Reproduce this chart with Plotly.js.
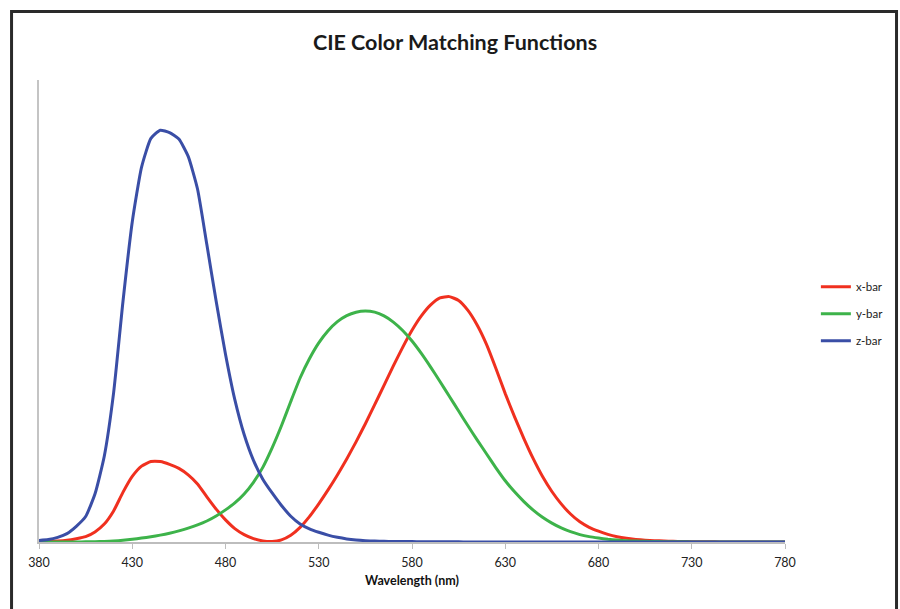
<!DOCTYPE html>
<html>
<head>
<meta charset="utf-8">
<script src="https://cdn.plot.ly/plotly-3.0.1.min.js"></script>
<style>
  html, body { margin: 0; padding: 0; background: #fff; }
  #chart { width: 900px; height: 609px; }
</style>
</head>
<body>
<div id="chart"></div>
<script>
// CIE 1931 2° standard observer, 5 nm steps, 380–780 nm
const wavelength = [
  380,385,390,395,400,405,410,415,420,425,430,435,440,445,450,455,460,465,470,475,
  480,485,490,495,500,505,510,515,520,525,530,535,540,545,550,555,560,565,570,575,
  580,585,590,595,600,605,610,615,620,625,630,635,640,645,650,655,660,665,670,675,
  680,685,690,695,700,705,710,715,720,725,730,735,740,745,750,755,760,765,770,775,780
];
const xBar = [
  0.001368,0.002236,0.004243,0.007650,0.014310,0.023190,0.043510,0.077630,0.134380,0.214770,
  0.283900,0.328500,0.348280,0.348060,0.336200,0.318700,0.290800,0.251100,0.195360,0.142100,
  0.095640,0.057950,0.032010,0.014700,0.004900,0.002400,0.009300,0.029100,0.063270,0.109600,
  0.165500,0.225750,0.290400,0.359700,0.433450,0.512050,0.594500,0.678400,0.762100,0.842500,
  0.916300,0.978600,1.026300,1.056700,1.062200,1.045600,1.002600,0.938400,0.854450,0.751400,
  0.642400,0.541900,0.447900,0.360800,0.283500,0.218700,0.164900,0.121200,0.087400,0.063600,
  0.046770,0.032900,0.022700,0.015840,0.011359,0.008111,0.005790,0.004109,0.002899,0.002049,
  0.001440,0.001000,0.000690,0.000476,0.000332,0.000235,0.000166,0.000117,0.000083,0.000059,0.000042
];
const yBar = [
  0.000039,0.000064,0.000120,0.000217,0.000396,0.000640,0.001210,0.002180,0.004000,0.007300,
  0.011600,0.016840,0.023000,0.029800,0.038000,0.048000,0.060000,0.073900,0.090980,0.112600,
  0.139020,0.169300,0.208020,0.258600,0.323000,0.407300,0.503000,0.608200,0.710000,0.793200,
  0.862000,0.914850,0.954000,0.980300,0.994950,1.000000,0.995000,0.978600,0.952000,0.915400,
  0.870000,0.816300,0.757000,0.694900,0.631000,0.566800,0.503000,0.441200,0.381000,0.321000,
  0.265000,0.217000,0.175000,0.138200,0.107000,0.081600,0.061000,0.044580,0.032000,0.023200,
  0.017000,0.011920,0.008210,0.005723,0.004102,0.002929,0.002091,0.001484,0.001047,0.000740,
  0.000520,0.000361,0.000249,0.000172,0.000120,0.000085,0.000060,0.000042,0.000030,0.000021,0.000015
];
const zBar = [
  0.006450,0.010550,0.020050,0.036210,0.067850,0.110200,0.207400,0.371300,0.645600,1.039050,
  1.385600,1.622960,1.747060,1.782600,1.772110,1.744100,1.669200,1.528100,1.287640,1.041900,
  0.812950,0.616200,0.465180,0.353300,0.272000,0.212300,0.158200,0.111700,0.078250,0.057250,
  0.042160,0.029840,0.020300,0.013400,0.008750,0.005750,0.003900,0.002750,0.002100,0.001800,
  0.001650,0.001400,0.001100,0.001000,0.000800,0.000600,0.000340,0.000240,0.000190,0.000100,
  0.000050,0.000030,0.000020,0.000010,0,0,0,0,0,0,
  0,0,0,0,0,0,0,0,0,0,
  0,0,0,0,0,0,0,0,0,0,0
];
const seriesNames = ['x-bar', 'y-bar', 'z-bar'];
const seriesColors = ['#f0301f', '#3db34a', '#3a4ea6'];
const xTicks = [380, 430, 480, 530, 580, 630, 680, 730, 780];

const values = [xBar, yBar, zBar];
const traces = values.map((v, i) => ({
  type: 'scatter',
  mode: 'lines',
  x: wavelength,
  y: v,
  name: seriesNames[i],
  legendgroup: seriesNames[i],
  line: { color: seriesColors[i], width: 3, shape: 'spline', smoothing: 0.5 },
  hoverinfo: 'x+y+name'
}));

const layout = {
  width: 900,
  height: 609,
  paper_bgcolor: '#ffffff',
  plot_bgcolor: '#ffffff',
  margin: { l: 39, r: 114, t: 80, b: 67 },
  font: { family: 'Lato, "Open Sans", sans-serif', color: '#222' },
  title: {
    text: '<b>CIE Color Matching Functions</b>',
    font: { family: 'Lato, sans-serif', size: 21.5, color: '#1a1a1a' },
    x: 0.5056, xanchor: 'center',
    y: 0.931, yanchor: 'middle'
  },
  xaxis: {
    range: [380, 780],
    tickvals: xTicks,
    ticktext: xTicks.map(String),
    ticks: 'outside',
    ticklen: 5,
    tickwidth: 1,
    tickcolor: '#bdbdbd',
    ticklabelstandoff: 3,
    showline: true,
    linecolor: '#bdbdbd',
    linewidth: 1.5,
    showgrid: false,
    zeroline: false,
    tickfont: { size: 12.5, color: '#222' },
    title: {
      text: '<b>Wavelength (nm)</b>',
      font: { size: 12.5, color: '#111' },
      standoff: 7
    }
  },
  yaxis: {
    range: [0, 2],
    showticklabels: false,
    ticks: '',
    showline: true,
    linecolor: '#c4c4c4',
    linewidth: 2,
    showgrid: false,
    zeroline: false
  },
  showlegend: true,
  legend: {
    x: 1.04, xanchor: 'left',
    y: 0.494, yanchor: 'middle',
    traceorder: 'grouped',
    tracegroupgap: 8,
    font: { size: 11.5, color: '#222' },
    bgcolor: 'rgba(0,0,0,0)'
  },
  shapes: [{
    type: 'rect',
    xref: 'paper', yref: 'paper',
    x0: -0.0368, x1: 1.1495,
    y0: -0.2, y1: 1.1483,
    line: { color: '#2a2a2a', width: 3 },
    fillcolor: 'rgba(0,0,0,0)',
    layer: 'above'
  }]
};

Plotly.newPlot('chart', traces, layout, { displayModeBar: false, staticPlot: true });
</script>
</body>
</html>
